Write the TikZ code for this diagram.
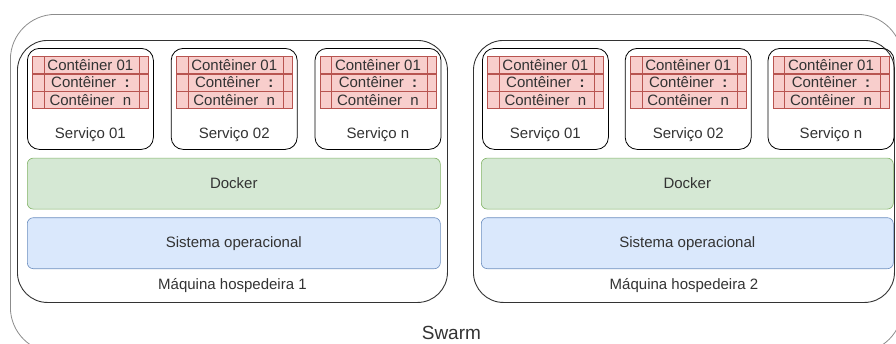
\documentclass[tikz,border=0pt]{standalone}
\usepackage{fontspec}
\setmainfont{Liberation Sans}
\usetikzlibrary{positioning}
\definecolor{swarmgray}{HTML}{8C8C8C}
\definecolor{hostgray}{HTML}{333333}
\definecolor{textgray}{HTML}{333333}
\definecolor{contfill}{HTML}{F8CECC}
\definecolor{contred}{HTML}{B85450}
\definecolor{dockfill}{HTML}{D5E8D4}
\definecolor{dockline}{HTML}{82B366}
\definecolor{sofill}{HTML}{DAE8FC}
\definecolor{soline}{HTML}{6C8EBF}

\begin{document}
\begin{tikzpicture}[x=1pt, y=-1pt, node distance=8pt,
  font=\fontsize{15}{18}\selectfont, text=textgray,
  swarmbox/.style={rectangle, draw=swarmgray, line width=0.8pt, rounded corners=45pt, inner sep=0pt, anchor=north west},
  hostbox/.style={rectangle, draw=hostgray, line width=0.9pt, rounded corners=30pt, minimum width=430pt, minimum height=262pt, inner sep=0pt, anchor=north west},
  servbox/.style={rectangle, draw=black, line width=0.8pt, rounded corners=12pt, minimum width=126pt, minimum height=101pt, inner sep=0pt},
  cont/.style={rectangle, draw=contred, fill=contfill, line width=0.6pt, minimum width=116pt, minimum height=17pt, inner sep=0pt},
  docker/.style={rectangle, draw=dockline, fill=dockfill, line width=0.6pt, rounded corners=6pt, minimum width=413pt, minimum height=51pt, inner sep=0pt},
  sysop/.style={rectangle, draw=soline, fill=sofill, line width=0.6pt, rounded corners=6pt, minimum width=413pt, minimum height=51pt, inner sep=0pt}]
  \path[use as bounding box, clip] (0,0) rectangle (896,343);

  % swarm and hosts
  \node[swarmbox, minimum width=892pt, minimum height=338pt] (SW) at (10,14) {};
  \node[font=\fontsize{19}{22}\selectfont] at ([xshift=-5pt, yshift=20pt]SW.south) {Swarm};
  \node[hostbox] (H1) at (17,40) {};
  \node[hostbox, minimum width=421pt] (H2) at (473,40) {};

  % services
  \node[servbox, anchor=north west] (S11) at (27,48) {};
  \node[servbox, right=17pt of S11] (S12) {};
  \node[servbox, right=17pt of S12] (S13) {};
  \node[servbox, anchor=north west] (S21) at (482,48) {};
  \node[servbox, right=16pt of S21] (S22) {};
  \node[servbox, right=16pt of S22] (S23) {};

  \foreach \s/\t in {S11/Serviço 01, S12/Serviço 02, S13/Serviço n,
                     S21/Serviço 01, S22/Serviço 02, S23/Serviço n} {
    \node[cont, below=8pt of \s.north] (\s-a) {Contêiner 01};
    \node[cont, below=0pt of \s-a] (\s-b) {Contêiner\ \ \textbf{:}};
    \node[cont, below=0pt of \s-b] (\s-c) {Contêiner\ \ n};
    \draw[contred, line width=0.6pt] ([xshift=12pt]\s-a.north west) -- ([xshift=12pt]\s-c.south west);
    \draw[contred, line width=0.6pt] ([xshift=-9pt]\s-a.north east) -- ([xshift=-9pt]\s-c.south east);
    \node at ([yshift=15pt]\s.south) {\t};
  }

  % layers
  \node[docker, below=8pt of S11.south west, anchor=north west] (D1) {Docker};
  \node[sysop, below=of D1] (O1) {Sistema operacional};
  \node at ([yshift=17pt]H1.south) {Máquina hospedeira 1};
  \node[docker, minimum width=412pt, below=8pt of S21.south west, anchor=north west, xshift=-1pt] (D2) {Docker};
  \node[sysop, minimum width=412pt, below=of D2] (O2) {Sistema operacional};
  \node at ([yshift=17pt]H2.south) {Máquina hospedeira 2};
\end{tikzpicture}
\end{document}
